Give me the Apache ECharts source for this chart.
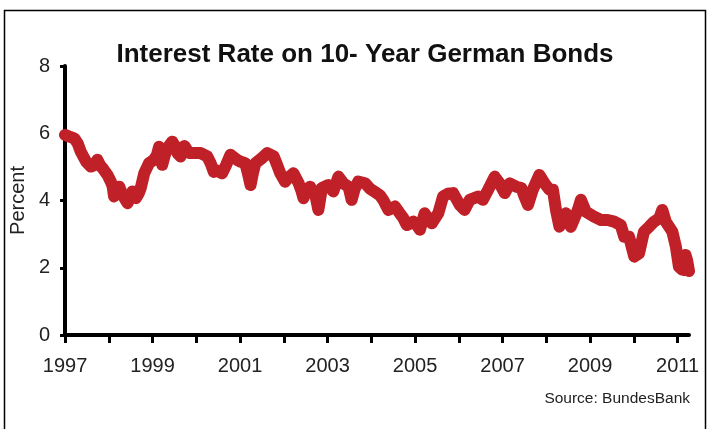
<!DOCTYPE html>
<html>
<head>
<meta charset="utf-8">
<script src="https://cdn.jsdelivr.net/npm/echarts@6/dist/echarts.min.js"></script>
<style>
  html, body { margin: 0; padding: 0; background: #fff; }
  #chart { width: 709px; height: 429px; }
</style>
</head>
<body>
<div id="chart"></div>
<script>
// Observation dates as decimal years
var years = [
  1997.00, 1997.10, 1997.21, 1997.29, 1997.36, 1997.48, 1997.59, 1997.67, 1997.74, 1997.80,
  1997.86, 1997.97, 1998.05, 1998.09, 1998.12, 1998.18, 1998.24, 1998.31, 1998.37, 1998.43,
  1998.49, 1998.54, 1998.62, 1998.68, 1998.73, 1998.81, 1998.92, 1999.03, 1999.10, 1999.15,
  1999.22, 1999.28, 1999.34, 1999.45, 1999.52, 1999.57, 1999.64, 1999.73, 1999.83, 1999.95,
  2000.10, 2000.25, 2000.33, 2000.40, 2000.44, 2000.51, 2000.59, 2000.68, 2000.78, 2000.93,
  2001.02, 2001.12, 2001.18, 2001.24, 2001.30, 2001.35, 2001.50, 2001.62, 2001.77, 2001.85,
  2001.92, 2002.03, 2002.12, 2002.22, 2002.34, 2002.40, 2002.45, 2002.52, 2002.60, 2002.72,
  2002.79, 2002.87, 2003.02, 2003.13, 2003.25, 2003.36, 2003.48, 2003.55, 2003.62, 2003.70,
  2003.86, 2003.97, 2004.12, 2004.20, 2004.27, 2004.39, 2004.54, 2004.65, 2004.72, 2004.81,
  2004.96, 2005.05, 2005.11, 2005.22, 2005.30, 2005.38, 2005.53, 2005.64, 2005.75, 2005.87,
  2006.02, 2006.13, 2006.25, 2006.44, 2006.55, 2006.67, 2006.82, 2006.93, 2007.05, 2007.16,
  2007.31, 2007.43, 2007.50, 2007.58, 2007.69, 2007.84, 2007.96, 2008.07, 2008.15, 2008.22,
  2008.30, 2008.45, 2008.56, 2008.72, 2008.79, 2008.90, 2009.09, 2009.25, 2009.40, 2009.55,
  2009.70, 2009.78, 2009.89, 2010.01, 2010.12, 2010.23, 2010.35, 2010.46, 2010.58, 2010.65,
  2010.73, 2010.88, 2010.96, 2011.03, 2011.10, 2011.15, 2011.18, 2011.22, 2011.26
];

// 10-year German government bond yield, percent
var yields = [
  5.95, 5.90, 5.85, 5.70, 5.45, 5.16, 5.01, 5.05, 5.21, 5.05,
  4.96, 4.76, 4.55, 4.41, 4.12, 4.30, 4.41, 4.17, 4.05, 3.92,
  4.10, 4.27, 4.07, 4.20, 4.37, 4.81, 5.11, 5.21, 5.35, 5.60,
  5.06, 5.35, 5.56, 5.75, 5.60, 5.41, 5.31, 5.62, 5.41, 5.41,
  5.41, 5.31, 5.10, 4.85, 4.91, 4.86, 4.81, 5.05, 5.36, 5.21,
  5.15, 5.11, 4.80, 4.46, 4.85, 5.11, 5.26, 5.41, 5.31, 5.05,
  4.81, 4.56, 4.70, 4.81, 4.51, 4.30, 4.07, 4.30, 4.41, 4.17,
  3.72, 4.37, 4.46, 4.27, 4.71, 4.51, 4.41, 4.02, 4.35, 4.56,
  4.51, 4.35, 4.22, 4.15, 4.02, 3.72, 3.82, 3.62, 3.50, 3.27,
  3.37, 3.25, 3.13, 3.62, 3.45, 3.32, 3.62, 4.12, 4.20, 4.22,
  3.87, 3.72, 4.02, 4.12, 4.02, 4.32, 4.71, 4.51, 4.22, 4.51,
  4.41, 4.37, 4.12, 3.87, 4.32, 4.76, 4.51, 4.32, 4.32, 3.72,
  3.22, 3.62, 3.22, 3.72, 4.02, 3.67, 3.52, 3.42, 3.42, 3.37,
  3.27, 2.92, 2.92, 2.33, 2.43, 3.07, 3.22, 3.37, 3.47, 3.72,
  3.37, 3.07, 2.63, 2.03, 1.95, 1.93, 2.38, 2.20, 1.90
];

// Axis ticks and labels
var yearTicks = [1997, 1998, 1999, 2000, 2001, 2002, 2003, 2004, 2005, 2006, 2007, 2008, 2009, 2010, 2011];
var yearLabels = [1997, 1999, 2001, 2003, 2005, 2007, 2009, 2011];

var titleText = 'Interest Rate on 10- Year German Bonds';
var yAxisName = 'Percent';
var sourceText = 'Source: BundesBank';

var series = years.map(function (y, i) { return [y, yields[i]]; });

var FONT = 'Liberation Sans, Arial, Helvetica, sans-serif';
var chart = echarts.init(document.getElementById('chart'), null, { renderer: 'canvas' });

chart.setOption({
  animation: false,
  backgroundColor: '#fff',
  title: {
    text: titleText,
    left: 360,
    top: 37,
    textAlign: 'center',
    textStyle: { fontFamily: FONT, fontSize: 26, fontWeight: 'bold', color: '#111' }
  },
  grid: { left: 64, right: 20, top: 66, bottom: 94, containLabel: false },
  xAxis: {
    type: 'value',
    min: 1997,
    max: 2011.26,
    interval: 1,
    splitLine: { show: false },
    axisLine: { show: true, onZero: false, lineStyle: { color: '#000', width: 4 } },
    axisTick: {
      show: true, inside: false, length: 8, customValues: yearTicks,
      lineStyle: { color: '#000', width: 3 }
    },
    axisLabel: {
      customValues: yearLabels, margin: 21,
      fontFamily: FONT, fontSize: 20, color: '#222',
      formatter: function (v) { return String(Math.round(v)); }
    }
  },
  yAxis: {
    type: 'value',
    min: 0,
    max: 8,
    interval: 2,
    name: yAxisName,
    nameLocation: 'middle',
    nameGap: 34,
    nameTextStyle: { fontFamily: FONT, fontSize: 20, color: '#222' },
    splitLine: { show: false },
    axisLine: { show: true, lineStyle: { color: '#000', width: 4 } },
    axisTick: { show: true, inside: false, length: 5, lineStyle: { color: '#000', width: 3 } },
    axisLabel: { margin: 15, fontFamily: FONT, fontSize: 20, color: '#222' }
  },
  series: [{
    type: 'line',
    data: series,
    showSymbol: false,
    symbol: 'none',
    smooth: false,
    lineStyle: { color: '#c02027', width: 12, cap: 'round', join: 'round' },
    z: 1
  }],
  graphic: [
    {
      type: 'rect',
      shape: { x: 4.5, y: 10.5, width: 701, height: 440 },
      style: { fill: 'none', stroke: '#000', lineWidth: 1.5 },
      silent: true
    },
    {
      type: 'text',
      right: 19,
      top: 391,
      style: { text: sourceText, fontFamily: FONT, fontSize: 15.5, fill: '#222' }
    }
  ]
});
</script>
</body>
</html>
